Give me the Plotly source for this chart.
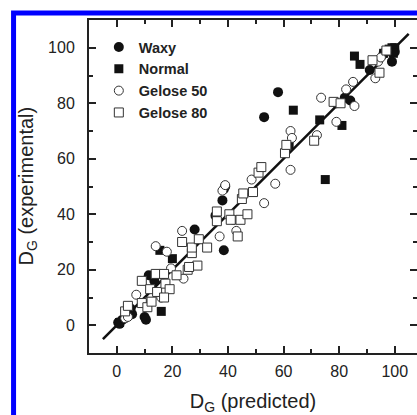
import plotly.graph_objects as go

# ---- data ----
waxy_x = [0.5, 2, 1, 5, 5.5, 10, 10.5, 11.5, 13.5, 28, 35.5, 38, 38.5, 39, 38.5, 53, 58, 79, 82, 84, 91, 96, 99, 100, 99.5]
waxy_y = [1, 2, 0.5, 6, 4, 3, 2, 18, 16, 34.5, 39.5, 45, 49, 50, 27, 75, 84, 80, 82, 81, 92, 98, 95, 98.5, 99]

normal_x = [1, 16, 15.5, 20, 62, 63.5, 73, 75, 81, 85.5, 87.5, 96, 98, 99, 100, 99.5]
normal_y = [1, 5, 27, 24, 65, 77.5, 74, 52.5, 72, 97, 94, 98, 99.5, 100, 100, 98]

g50_x = [3, 4, 7, 11, 16, 19.5, 24, 14, 18, 23.5, 37, 43, 42, 38, 39, 48.5, 53, 57, 62.5, 62.5, 63, 72, 73.5, 79, 82.5, 85, 85.5, 93, 94, 95, 97]
g50_y = [2.5, 3, 11, 8.5, 10, 20.5, 16.8, 28.5, 26.5, 34, 32, 34, 38, 48.5, 50.5, 52.5, 44, 51, 56, 70, 67.5, 68.5, 82, 73.3, 85, 87.7, 79, 89, 95, 96.5, 99]

g80_x = [3, 4, 9, 11, 12.5, 9, 12, 14.5, 14, 17, 17.5, 19, 17, 21.5, 25.5, 29, 26, 27, 23.5, 27, 29.5, 32.5, 36, 36, 40.5, 41, 44.5, 47, 43.5, 45, 45.5, 49, 51, 52, 60.5, 61, 71, 78, 80.5, 92, 94.5, 97]
g80_y = [5, 7, 8, 6.5, 8.5, 16, 13, 12, 18.5, 18.5, 15, 13, 10, 18, 20, 21.5, 21, 26, 30, 28, 31, 28, 37.5, 41, 40, 38, 38, 40, 32, 45.5, 47.5, 48, 55, 57, 62, 65, 66.5, 80.5, 80, 95.5, 91, 99]

fit_x = [-5, 105]
fit_y = [-5, 105]

x_ticks = [0, 20, 40, 60, 80, 100]
y_ticks = [0, 20, 40, 60, 80, 100]
x_range = [-10, 108]
y_range = [-10, 110]

FONT = "Arial, Liberation Sans, sans-serif"
INK = "#222"

fig = go.Figure()
fig.add_trace(go.Scatter(x=fit_x, y=fit_y, mode="lines", line=dict(color="#111", width=2.5),
                         showlegend=False, hoverinfo="skip"))
fig.add_trace(go.Scatter(x=waxy_x, y=waxy_y, mode="markers", name="Waxy",
                         marker=dict(symbol="circle", size=10, color="#111", line=dict(width=0))))
fig.add_trace(go.Scatter(x=normal_x, y=normal_y, mode="markers", name="Normal",
                         marker=dict(symbol="square", size=9, color="#111", line=dict(width=0))))
fig.add_trace(go.Scatter(x=g50_x, y=g50_y, mode="markers", name="Gelose 50",
                         marker=dict(symbol="circle", size=9, color="white", line=dict(width=1, color="#333"))))
fig.add_trace(go.Scatter(x=g80_x, y=g80_y, mode="markers", name="Gelose 80",
                         marker=dict(symbol="square", size=9, color="white", line=dict(width=1, color="#333"))))
# empty trace so the right-hand tick axis is drawn
fig.add_trace(go.Scatter(x=[None], y=[None], yaxis="y2", showlegend=False, hoverinfo="skip"))

tick_common = dict(
    showgrid=False, zeroline=False,
    ticks="inside", ticklen=7, tickwidth=1.5, tickcolor=INK,
    tickfont=dict(family=FONT, size=16, color=INK), automargin=False,
    minor=dict(ticks="inside", ticklen=4, tickwidth=1.5, tickcolor=INK, dtick=10, showgrid=False),
)

fig.update_layout(
    width=417, height=415,
    margin=dict(l=89, r=0, t=20, b=62),
    paper_bgcolor="white", plot_bgcolor="white",
    font=dict(family=FONT, color=INK),
    xaxis=dict(range=x_range, tickvals=x_ticks, ticklabelstandoff=3,
               showline=True, linecolor=INK, linewidth=2, mirror="ticks",
               title=dict(text="D<sub>G</sub> (predicted)", font=dict(family=FONT, size=20, color=INK), standoff=15),
               **tick_common),
    yaxis=dict(range=y_range, tickvals=y_ticks, ticklabelstandoff=9,
               showline=True, linecolor=INK, linewidth=2, mirror=False,
               **tick_common),
    yaxis2=dict(range=y_range, tickvals=y_ticks, overlaying="y", side="right",
                showline=False, showticklabels=False, **tick_common),
    legend=dict(x=0.03, y=0.967, xanchor="left", yanchor="top", bgcolor="rgba(0,0,0,0)",
                font=dict(family=FONT, size=14.5, color=INK, weight="bold"), tracegroupgap=0),
    annotations=[dict(text="D<sub>G</sub> (experimental)", xref="paper", yref="paper",
                      x=-0.189, y=0.5, xanchor="center", yanchor="middle", textangle=-90,
                      showarrow=False, font=dict(family=FONT, size=20, color=INK))],
    shapes=[dict(type="path", xref="paper", yref="paper",
                 path="M -0.23,-0.3 L -0.23,1.021 L 1.2,1.021",
                 line=dict(color="#0000ff", width=5), layer="above")],
    showlegend=True,
)

fig.write_html("out.html", config={"displayModeBar": False},
               post_script="document.body.style.margin='0';document.body.style.overflow='hidden';"
                           "document.documentElement.style.overflow='hidden';")
